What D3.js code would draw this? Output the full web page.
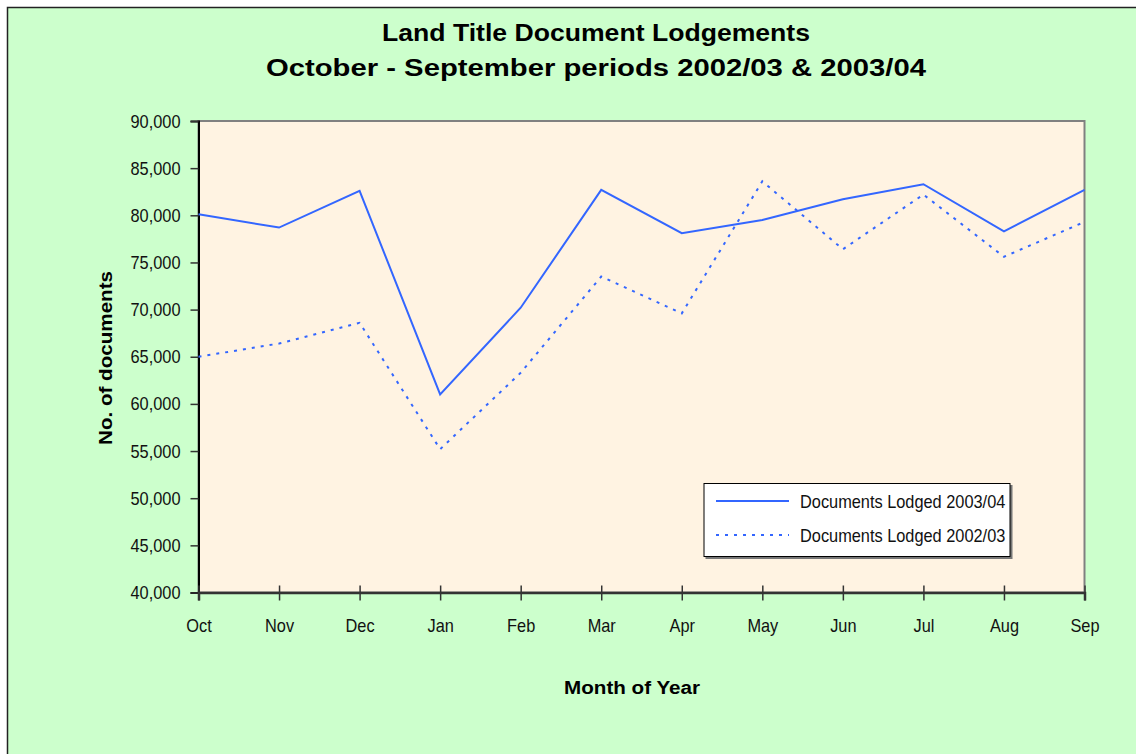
<!DOCTYPE html>
<html>
<head>
<meta charset="utf-8">
<script src="https://d3js.org/d3.v7.min.js"></script>
<style>
  html, body { margin: 0; padding: 0; background: #ffffff; }
  svg { display: block; }
</style>
</head>
<body>
<script>
  // data
  const months = ["Oct", "Nov", "Dec", "Jan", "Feb", "Mar", "Apr", "May", "Jun", "Jul", "Aug", "Sep"];
  const lodged0304 = [80100, 78700, 82600, 61000, 70200, 82700, 78100, 79500, 81700, 83300, 78300, 82700];
  const lodged0203 = [65000, 66400, 68600, 55200, 63300, 73500, 69600, 83600, 76400, 82200, 75600, 79300];
  const yTicks = [40000, 45000, 50000, 55000, 60000, 65000, 70000, 75000, 80000, 85000, 90000];
  const seriesNames = ["Documents Lodged 2003/04", "Documents Lodged 2002/03"];

  const W = 1136, H = 754;
  const plot = { left: 198.5, right: 1084.5, top: 121, bottom: 592.5 };
  const font = "Arial, 'Liberation Sans', sans-serif";
  const blue = "#3366ff";

  // squeeze regular Arial to look like the narrow face of the original
  function condense(sel, k) {
    sel.each(function () {
      const len = this.getComputedTextLength();
      d3.select(this)
        .attr("textLength", len * k)
        .attr("lengthAdjust", "spacingAndGlyphs");
    });
  }

  const svg = d3.select("body").append("svg")
    .attr("width", W)
    .attr("height", H);

  // chart area
  svg.append("rect")
    .attr("x", 7.5).attr("y", 7.5)
    .attr("width", W + 50).attr("height", H + 50)
    .attr("fill", "#ccffcc")
    .attr("stroke", "#222")
    .attr("stroke-width", 1.5);

  // plot area
  svg.append("rect")
    .attr("x", plot.left).attr("y", plot.top)
    .attr("width", plot.right - plot.left)
    .attr("height", plot.bottom - plot.top)
    .attr("fill", "#fff3e2")
    .attr("stroke", "#808080")
    .attr("stroke-width", 2);

  const x = d3.scalePoint()
    .domain(months)
    .range([plot.left, plot.right]);

  const y = d3.scaleLinear()
    .domain([40000, 90000])
    .range([plot.bottom, plot.top]);

  // y axis
  const yAxis = svg.append("g")
    .attr("transform", `translate(${plot.left},0)`)
    .call(d3.axisLeft(y)
      .tickValues(yTicks)
      .tickSize(8)
      .tickPadding(10)
      .tickFormat(d3.format(",")));
  yAxis.select(".domain").attr("stroke", "#000").attr("stroke-width", 2);
  yAxis.selectAll(".tick line").attr("stroke", "#333").attr("stroke-width", 1.5);
  yAxis.selectAll(".tick text")
    .attr("font-family", font)
    .attr("font-size", 19)
    .attr("fill", "#111")
    .call(condense, 0.86);

  // x axis (cross ticks)
  const xAxis = svg.append("g")
    .attr("transform", `translate(0,${plot.bottom})`)
    .call(d3.axisBottom(x)
      .tickSize(8)
      .tickPadding(18));
  xAxis.select(".domain").attr("stroke", "#333").attr("stroke-width", 2.5);
  xAxis.selectAll(".tick line")
    .attr("y1", -7)
    .attr("stroke", "#333").attr("stroke-width", 1.5);
  xAxis.selectAll(".tick text")
    .attr("font-family", font)
    .attr("font-size", 19)
    .attr("fill", "#111")
    .call(condense, 0.86);

  // lines
  const line = d3.line()
    .x((d, i) => x(months[i]))
    .y(d => y(d));

  svg.append("path")
    .attr("d", line(lodged0203))
    .attr("fill", "none")
    .attr("stroke", blue)
    .attr("stroke-width", 2)
    .attr("stroke-dasharray", "3,6");

  svg.append("path")
    .attr("d", line(lodged0304))
    .attr("fill", "none")
    .attr("stroke", blue)
    .attr("stroke-width", 2);

  // titles
  svg.append("text")
    .attr("x", 596).attr("y", 41)
    .attr("text-anchor", "middle")
    .attr("font-family", font)
    .attr("font-weight", 700)
    .attr("font-size", 23)
    .attr("textLength", 428)
    .attr("lengthAdjust", "spacingAndGlyphs")
    .text("Land Title Document Lodgements");

  svg.append("text")
    .attr("x", 596).attr("y", 76)
    .attr("text-anchor", "middle")
    .attr("font-family", font)
    .attr("font-weight", 700)
    .attr("font-size", 23)
    .attr("textLength", 660)
    .attr("lengthAdjust", "spacingAndGlyphs")
    .text("October - September periods 2002/03 & 2003/04");

  svg.append("text")
    .attr("x", 632).attr("y", 694)
    .attr("text-anchor", "middle")
    .attr("font-family", font)
    .attr("font-weight", 700)
    .attr("font-size", 18)
    .attr("textLength", 136)
    .attr("lengthAdjust", "spacingAndGlyphs")
    .text("Month of Year");

  svg.append("text")
    .attr("transform", "translate(112,358) rotate(-90)")
    .attr("text-anchor", "middle")
    .attr("font-family", font)
    .attr("font-weight", 700)
    .attr("font-size", 18)
    .attr("textLength", 174)
    .attr("lengthAdjust", "spacingAndGlyphs")
    .text("No. of documents");

  // legend
  const legend = svg.append("g").attr("transform", "translate(704,483.5)");
  legend.append("rect")
    .attr("x", 1.5).attr("y", 1.5)
    .attr("width", 307).attr("height", 74)
    .attr("fill", "#777");
  legend.append("rect")
    .attr("width", 306).attr("height", 73)
    .attr("fill", "#ffffff")
    .attr("stroke", "#000")
    .attr("stroke-width", 1);

  const legendRows = legend.selectAll(".row")
    .data(seriesNames)
    .join("g")
    .attr("transform", (d, i) => `translate(0,${17.5 + i * 34})`);

  legendRows.append("line")
    .attr("x1", 12).attr("x2", 85)
    .attr("stroke", blue)
    .attr("stroke-width", 2)
    .attr("stroke-dasharray", (d, i) => i === 1 ? "3,6" : null);

  legendRows.append("text")
    .attr("x", 96)
    .attr("dy", "0.35em")
    .attr("font-family", font)
    .attr("font-size", 19)
    .attr("fill", "#111")
    .text(d => d)
    .call(condense, 0.86);
</script>
</body>
</html>
